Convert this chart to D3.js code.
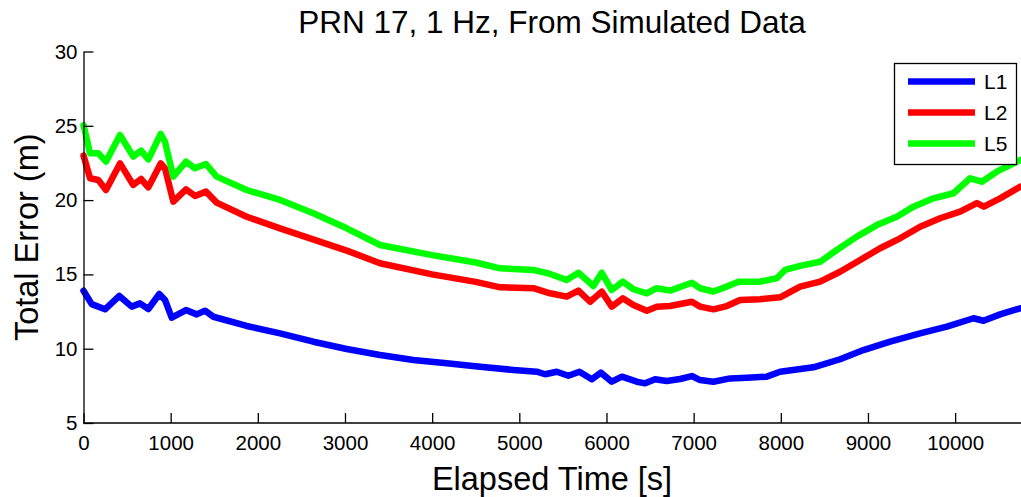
<!DOCTYPE html>
<html>
<head>
<meta charset="utf-8">
<script src="https://cdn.jsdelivr.net/npm/d3@7"></script>
<style>
  body { margin: 0; background: #fff; }
  svg { display: block; font-family: "Liberation Sans", Arial, sans-serif; }
</style>
</head>
<body>
<div id="chart"></div>
<script>
// values
let l1Time = [0, 94, 247, 411, 553, 648, 744, 870, 935, 1012, 1176, 1299, 1394, 1490, 1872, 2255, 2637, 3020, 3402, 3785, 4167, 4550, 4932, 5200, 5296, 5430, 5563, 5690, 5831, 5935, 6061, 6176, 6348, 6443, 6558, 6692, 6845, 6979, 7074, 7227, 7418, 7610, 7839, 7992, 8374, 8680, 8948, 9254, 9598, 9905, 10211, 10325, 10516, 10746]
let l1Err = [13.9, 13.0, 12.65, 13.55, 12.83, 13.05, 12.67, 13.68, 13.28, 12.09, 12.6, 12.31, 12.56, 12.15, 11.53, 11.03, 10.47, 9.98, 9.58, 9.24, 9.02, 8.79, 8.57, 8.45, 8.28, 8.45, 8.18, 8.45, 7.94, 8.39, 7.78, 8.12, 7.78, 7.67, 7.94, 7.83, 7.96, 8.16, 7.89, 7.78, 8.0, 8.05, 8.12, 8.45, 8.75, 9.29, 9.91, 10.47, 11.03, 11.48, 12.05, 11.88, 12.31, 12.72]

let l2Time = [0, 75, 170, 258, 419, 571, 660, 744, 886, 935, 1030, 1176, 1279, 1405, 1528, 1872, 2255, 3020, 3402, 4000, 4500, 4780, 5161, 5353, 5544, 5678, 5812, 5946, 6061, 6187, 6309, 6463, 6577, 6730, 6979, 7074, 7227, 7380, 7533, 7762, 7992, 8222, 8451, 8680, 8910, 9139, 9369, 9598, 9828, 10057, 10250, 10330, 10516, 10746]
let l2Err = [23.0, 21.47, 21.35, 20.68, 22.47, 21.02, 21.42, 20.86, 22.47, 22.14, 19.9, 20.72, 20.28, 20.57, 19.83, 18.88, 18.1, 16.6, 15.75, 15.0, 14.5, 14.13, 14.07, 13.73, 13.5, 13.91, 13.16, 13.84, 12.83, 13.39, 12.94, 12.56, 12.83, 12.87, 13.16, 12.83, 12.65, 12.87, 13.28, 13.33, 13.46, 14.18, 14.51, 15.18, 15.97, 16.76, 17.43, 18.21, 18.78, 19.22, 19.8, 19.56, 20.12, 20.9]

let l5Time = [0, 75, 170, 258, 419, 571, 660, 744, 886, 935, 1030, 1176, 1279, 1405, 1528, 1872, 2255, 2637, 3020, 3402, 4000, 4500, 4780, 5161, 5353, 5544, 5678, 5850, 5946, 6061, 6187, 6309, 6463, 6577, 6730, 6979, 7074, 7227, 7380, 7514, 7762, 7954, 8049, 8222, 8451, 8642, 8872, 9101, 9331, 9522, 9751, 9981, 10172, 10306, 10478, 10746]
let l5Err = [25.05, 23.15, 23.15, 22.59, 24.38, 22.93, 23.33, 22.74, 24.45, 23.93, 21.58, 22.59, 22.14, 22.43, 21.58, 20.68, 20.01, 19.11, 18.1, 16.98, 16.3, 15.8, 15.41, 15.3, 15.03, 14.62, 15.11, 14.22, 15.11, 13.95, 14.51, 14.0, 13.73, 14.07, 13.91, 14.44, 14.07, 13.85, 14.18, 14.51, 14.51, 14.74, 15.3, 15.57, 15.85, 16.64, 17.54, 18.32, 18.88, 19.56, 20.12, 20.46, 21.47, 21.24, 21.91, 22.7]

let seriesNames = ['L1', 'L2', 'L5']
let seriesColors = ['#0000ff', '#ff0000', '#00ff00']
let xTicks = [0, 1000, 2000, 3000, 4000, 5000, 6000, 7000, 8000, 9000, 10000]
let yTicks = [5, 10, 15, 20, 25, 30]

let width = 1021, height = 497
let mLeft = 83.5, mRight = 1020.5, mTop = 51.5, mBottom = 423

let svg = d3.select('#chart').append('svg')
    .attr('width', width)
    .attr('height', height)

let x = d3.scaleLinear().domain([0, 10750]).range([mLeft, mRight])
let y = d3.scaleLinear().domain([5, 30]).range([mBottom, mTop])

// title + axis labels
svg.append('text')
    .attr('x', (mLeft + mRight) / 2)
    .attr('y', 33)
    .attr('text-anchor', 'middle')
    .style('font-size', '31.5px')
    .text('PRN 17, 1 Hz, From Simulated Data')

svg.append('text')
    .attr('x', (mLeft + mRight) / 2)
    .attr('y', 490)
    .attr('text-anchor', 'middle')
    .style('font-size', '32.5px')
    .text('Elapsed Time [s]')

svg.append('text')
    .attr('transform', `translate(38, ${(mTop + mBottom) / 2}) rotate(-90)`)
    .attr('text-anchor', 'middle')
    .style('font-size', '32.5px')
    .text('Total Error (m)')

// lines
let series = [
    { name: seriesNames[0], color: seriesColors[0], pts: d3.zip(l1Time, l1Err) },
    { name: seriesNames[1], color: seriesColors[1], pts: d3.zip(l2Time, l2Err) },
    { name: seriesNames[2], color: seriesColors[2], pts: d3.zip(l5Time, l5Err) }
]

let line = d3.line().x(d => x(d[0])).y(d => y(d[1]))

svg.append('g').selectAll('path')
    .data(series)
    .join('path')
    .attr('d', d => line(d.pts))
    .attr('fill', 'none')
    .attr('stroke', d => d.color)
    .attr('stroke-width', 6.5)
    .attr('stroke-linejoin', 'round')
    .attr('stroke-linecap', 'round')

// axes, ticks pointing inward like matlab
let xAxis = svg.append('g')
    .attr('transform', `translate(0, ${mBottom})`)
    .call(d3.axisBottom(x).tickValues(xTicks).tickFormat(d3.format('d')).tickSizeInner(-10).tickSizeOuter(0).tickPadding(12))
xAxis.select('.domain').attr('d', `M${mLeft},0H${width}`)

let yAxis = svg.append('g')
    .attr('transform', `translate(${mLeft}, 0)`)
    .call(d3.axisLeft(y).tickValues(yTicks).tickSizeInner(-10).tickSizeOuter(0).tickPadding(6))

svg.selectAll('.tick text').style('font-size', '20.5px').attr('fill', '#000')
svg.selectAll('.domain, .tick line').attr('stroke', '#000').attr('stroke-width', 1.3)
svg.selectAll('g').attr('font-family', null)

// legend
let legend = svg.append('g')
legend.append('rect')
    .attr('x', 894.5)
    .attr('y', 63.5)
    .attr('width', 122)
    .attr('height', 101)
    .attr('fill', '#fff')
    .attr('stroke', '#000')
    .attr('stroke-width', 1.3)

let rows = legend.selectAll('g.row')
    .data(series)
    .join('g')
    .attr('class', 'row')
    .attr('transform', (d, i) => `translate(0, ${81.5 + i * 31})`)

rows.append('line')
    .attr('x1', 908)
    .attr('x2', 975)
    .attr('stroke', d => d.color)
    .attr('stroke-width', 6.5)

rows.append('text')
    .attr('x', 984)
    .attr('y', 7.5)
    .style('font-size', '21px')
    .text(d => d.name)
</script>
</body>
</html>
